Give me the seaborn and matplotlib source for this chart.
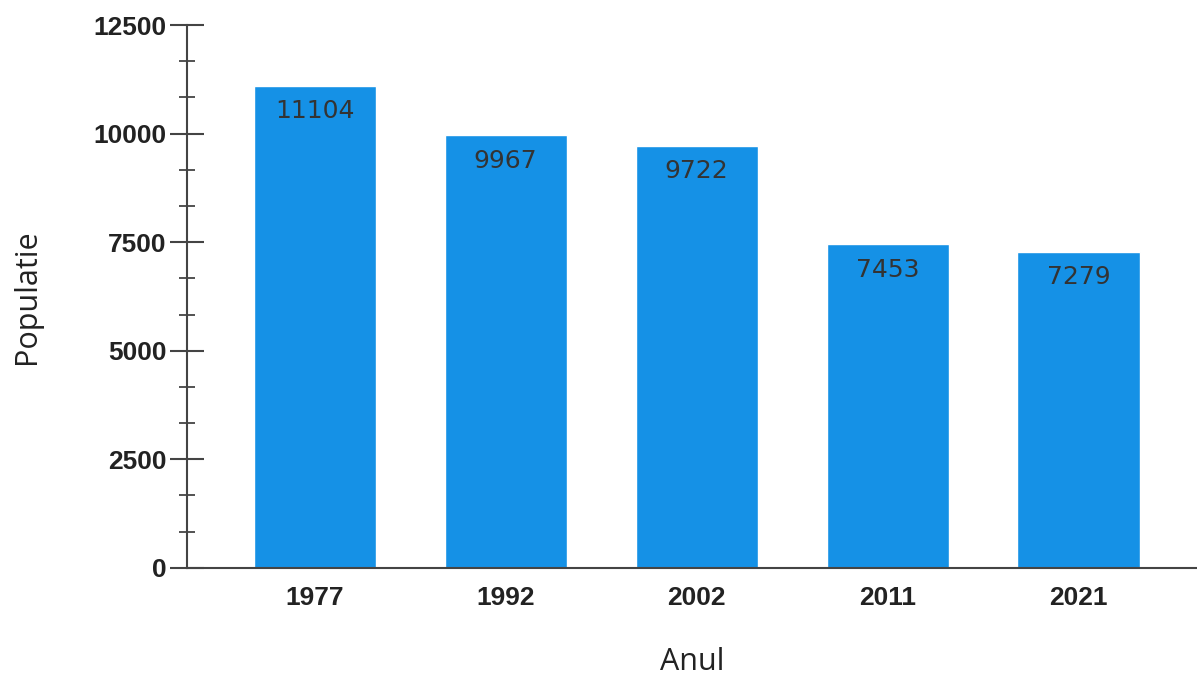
import matplotlib
matplotlib.use('Agg')
import matplotlib.pyplot as plt
import seaborn as sns
import pandas as pd
from matplotlib.ticker import MultipleLocator, AutoMinorLocator

years = ['1977', '1992', '2002', '2011', '2021']
population = [11104, 9967, 9722, 7453, 7279]

df = pd.DataFrame({'Anul': years, 'Populatie': population})

sns.set_style('white')
plt.rcParams['font.family'] = ['Liberation Sans', 'DejaVu Sans']

fig = plt.figure(figsize=(11.97, 6.85), dpi=100)
ax = fig.add_axes([0.156, 0.171, 0.844, 0.7925])

sns.barplot(data=df, x='Anul', y='Populatie', color='#1591E6', width=0.64,
            saturation=1, ax=ax)

ax.bar_label(ax.containers[0], labels=[str(v) for v in population],
             padding=-27, fontsize=18, color='#333333', family='DejaVu Sans')

ax.set_xlim(-0.67, 4.62)
ax.set_ylim(0, 12500)
ax.yaxis.set_major_locator(MultipleLocator(2500))
ax.yaxis.set_minor_locator(AutoMinorLocator(3))

for s in ['top', 'right']:
    ax.spines[s].set_visible(False)
for s in ['left', 'bottom']:
    ax.spines[s].set_color('#444444')
    ax.spines[s].set_linewidth(1.5)

ax.tick_params(axis='y', which='major', direction='inout', length=25, width=1.5,
               color='#444444', labelsize=19, pad=2, left=True)
ax.tick_params(axis='y', which='minor', direction='inout', length=12, width=1.3,
               color='#444444', left=True)
ax.tick_params(axis='x', length=0, labelsize=19, pad=13)
for lab in ax.get_xticklabels() + ax.get_yticklabels():
    lab.set_fontweight('bold')
    lab.set_color('#222222')

ax.set_xlabel('Anul', fontsize=22, family='Open Sans', color='#222222', labelpad=27)
ax.set_ylabel('Populatie', fontsize=22, family='Open Sans', color='#222222', labelpad=37)

fig.savefig('out.png', dpi=100)
